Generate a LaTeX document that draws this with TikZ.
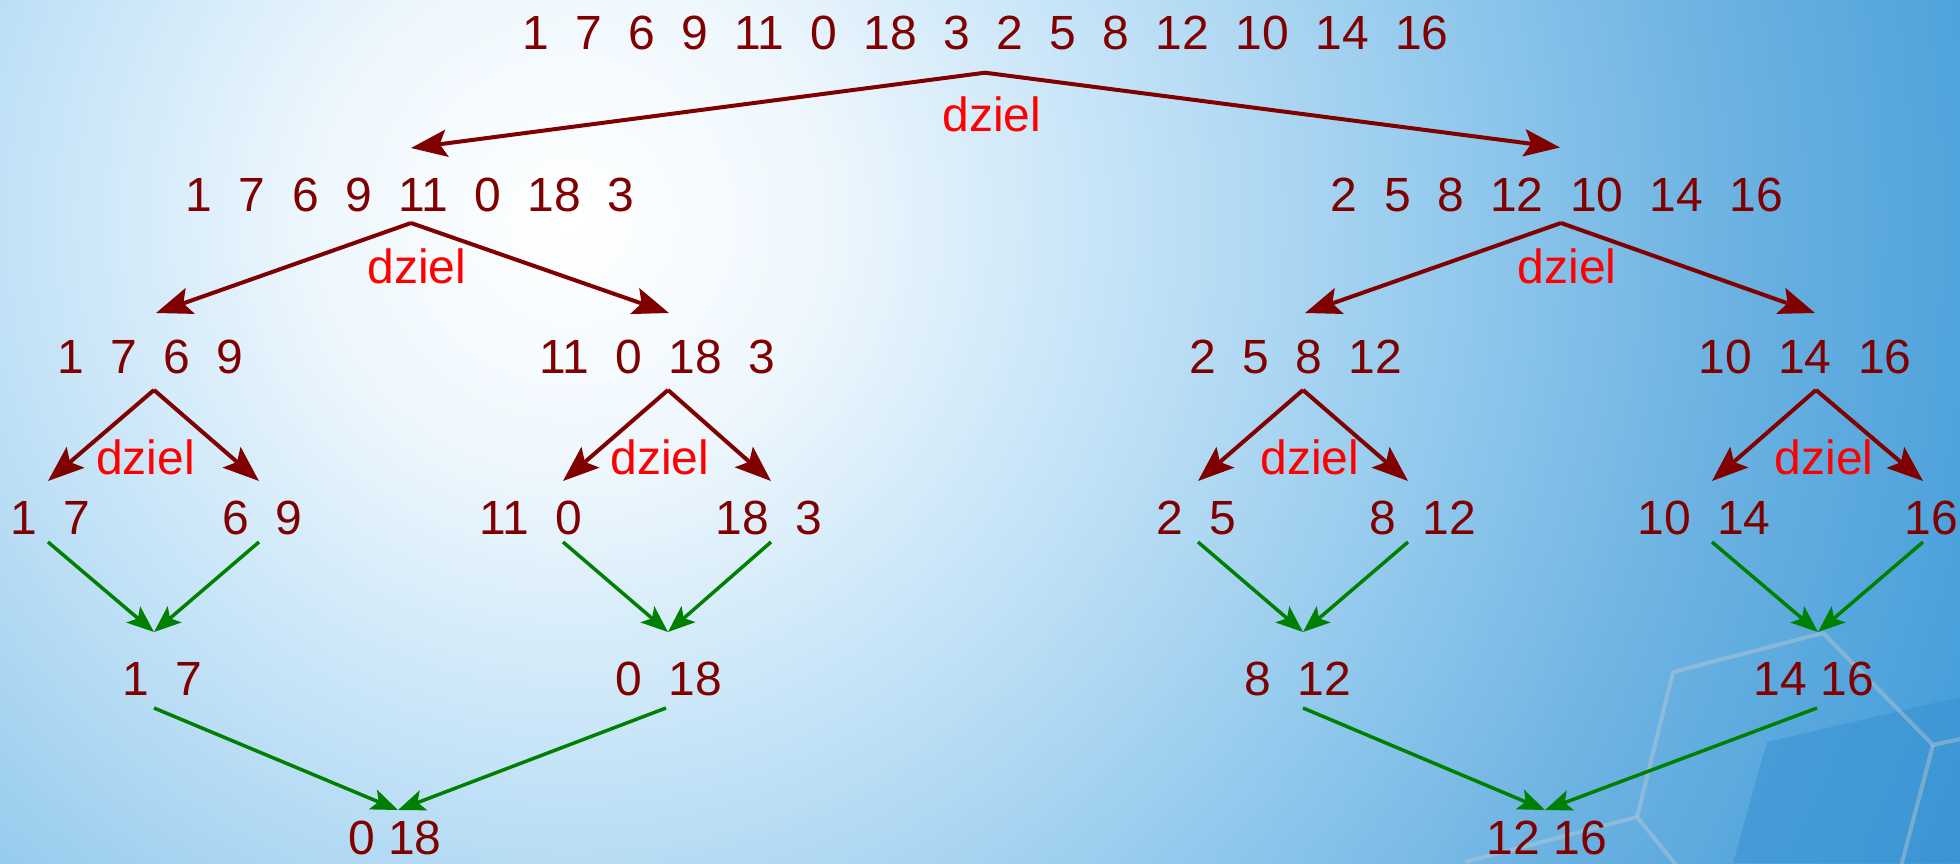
\documentclass[tikz,border=0pt]{standalone}
\usepackage{fontspec}
\setmainfont{Liberation Sans}
\usetikzlibrary{arrows.meta}
\definecolor{numc}{HTML}{800000}
\definecolor{lblc}{HTML}{FF0000}
\definecolor{mergec}{HTML}{008000}
\definecolor{hexc}{HTML}{C8CCD0}
\definecolor{bgA}{HTML}{FFFFFF}
\definecolor{bgB}{HTML}{EEF7FD}
\definecolor{bgC}{HTML}{C4E3F7}
\definecolor{bgD}{HTML}{98CCEE}
\definecolor{bgE}{HTML}{6DB3E2}
\definecolor{bgF}{HTML}{4AA0DA}
\definecolor{bgG}{HTML}{3690D1}
\pgfdeclareradialshading{bgglow}{\pgfpointorigin}{color(0bp)=(bgA); color(3.7bp)=(bgB); color(8.1bp)=(bgC); color(12.5bp)=(bgD); color(16.9bp)=(bgE); color(21.3bp)=(bgF); color(25bp)=(bgG); color(50bp)=(bgG)}
\newcommand{\gp}{\hspace{0.55em}}
\begin{document}
\begin{tikzpicture}[x=1pt,y=-1pt,
  num/.style={font=\fontsize{48}{58}\selectfont, text=numc, inner sep=0pt},
  lbl/.style={font=\fontsize{48}{58}\selectfont, text=lblc, inner sep=0pt},
  divide/.style={draw=numc, line width=4pt, -{Stealth[length=36pt,width=27pt,inset=7pt]}},
  merge/.style={draw=mergec, line width=3.5pt, -{Stealth[length=27pt,width=21pt,inset=6pt]}},
  hexline/.style={draw=hexc, draw opacity=0.4, line width=4pt, line join=round}]
\useasboundingbox (0,0) rectangle (1960,863);
% background
\begin{scope}
\clip (0,0) rectangle (1960,863);
\shade[shading=bgglow] (570,220) circle (1700pt);
\fill[color=bgG, opacity=0.5] (1767,742) -- (1960,697) -- (1960,863) -- (1733,863) -- cycle;
\draw[hexline] (1637,817) -- (1673,672) -- (1823,633) -- (1933,745) -- (1965,738);
\draw[hexline] (1933,745) -- (1900,870);
\draw[hexline] (1465,862) -- (1637,817) -- (1680,870);
\end{scope}
% numbers
\node[num] (n0) at (985.5,33) {1\gp 7\gp 6\gp 9\gp 11\gp 0\gp 18\gp 3\gp 2\gp 5\gp 8\gp 12\gp 10\gp 14\gp 16};
\node[num] (n1) at (410,194.5) {1\gp 7\gp 6\gp 9\gp 11\gp 0\gp 18\gp 3};
\node[num] (n2) at (1557,194.5) {2\gp 5\gp 8\gp 12\gp 10\gp 14\gp 16};
\node[num] (n11) at (150,356.5) {1\gp 7\gp 6\gp 9};
\node[num] (n12) at (657,356.5) {11\gp 0\gp 18\gp 3};
\node[num] (n21) at (1296,356.5) {2\gp 5\gp 8\gp 12};
\node[num] (n22) at (1805,356.5) {10\gp 14\gp 16};
\node[num] (n111) at (50,518) {1\gp 7};
\node[num] (n112) at (262.5,518) {6\gp 9};
\node[num] (n121) at (530.5,518) {11\gp 0};
\node[num] (n122) at (769,518) {18\gp 3};
\node[num] (n211) at (1196,518) {2\gp 5};
\node[num] (n212) at (1422.5,518) {8\gp 12};
\node[num] (n221) at (1704,518) {10\gp 14};
\node[num] (n222) at (1931,518) {16};
\node[num] (m11) at (162,679) {1\gp 7};
\node[num] (m12) at (669,679) {0\gp 18};
\node[num] (m21) at (1297.5,679) {8\gp 12};
\node[num] (m22) at (1813.7,679) {14 16};
\node[num] (m1) at (395,838) {0 18};
\node[num] (m2) at (1547,838) {12 16};
% labels
\node[lbl] (d0) at (992,114.5) {dziel};
\node[lbl] (d1) at (417,266) {dziel};
\node[lbl] (d2) at (1567,266) {dziel};
\node[lbl] (d11) at (145.5,457) {dziel};
\node[lbl] (d12) at (660,457) {dziel};
\node[lbl] (d21) at (1310,457) {dziel};
\node[lbl] (d22) at (1824,457) {dziel};
% connector end points
\coordinate (a0) at (985,72.7);
\coordinate (t1) at (411,148);
\coordinate (t2) at (1560,147.5);
\coordinate (a1) at (411,223);
\coordinate (a2) at (1561,223);
\coordinate (t11) at (156,313);
\coordinate (t12) at (669,313);
\coordinate (t21) at (1305,313);
\coordinate (t22) at (1815,313);
\coordinate (a11) at (154,390);
\coordinate (a12) at (668,390);
\coordinate (a21) at (1303,390);
\coordinate (a22) at (1816,390);
\coordinate (t111) at (48,481);
\coordinate (t112) at (259,481);
\coordinate (t121) at (563,481);
\coordinate (t122) at (771,481);
\coordinate (t211) at (1198,481);
\coordinate (t212) at (1408,481);
\coordinate (t221) at (1712,481);
\coordinate (t222) at (1923,481);
\coordinate (s111) at (48,542);
\coordinate (s112) at (259,542);
\coordinate (s121) at (563,542);
\coordinate (s122) at (771,542);
\coordinate (s211) at (1198,542);
\coordinate (s212) at (1408,542);
\coordinate (s221) at (1712,542);
\coordinate (s222) at (1923,542);
\coordinate (e11) at (154,632);
\coordinate (e12) at (668,632);
\coordinate (e21) at (1303,632);
\coordinate (e22) at (1818,632);
\coordinate (s11) at (154,708);
\coordinate (s12) at (666,708);
\coordinate (s21) at (1303,708);
\coordinate (s22) at (1817,708);
\coordinate (e1) at (398,810);
\coordinate (e2) at (1545,810);
% divide arrows
\draw[divide] (a0) -- (t1);
\draw[divide] (a0) -- (t2);
\draw[divide] (a1) -- (t11);
\draw[divide] (a1) -- (t12);
\draw[divide] (a2) -- (t21);
\draw[divide] (a2) -- (t22);
\draw[divide] (a11) -- (t111);
\draw[divide] (a11) -- (t112);
\draw[divide] (a12) -- (t121);
\draw[divide] (a12) -- (t122);
\draw[divide] (a21) -- (t211);
\draw[divide] (a21) -- (t212);
\draw[divide] (a22) -- (t221);
\draw[divide] (a22) -- (t222);
% merge arrows
\draw[merge] (s111) -- (e11);
\draw[merge] (s112) -- (e11);
\draw[merge] (s121) -- (e12);
\draw[merge] (s122) -- (e12);
\draw[merge] (s211) -- (e21);
\draw[merge] (s212) -- (e21);
\draw[merge] (s221) -- (e22);
\draw[merge] (s222) -- (e22);
\draw[merge] (s11) -- (e1);
\draw[merge] (s12) -- (e1);
\draw[merge] (s21) -- (e2);
\draw[merge] (s22) -- (e2);
\end{tikzpicture}
\end{document}
